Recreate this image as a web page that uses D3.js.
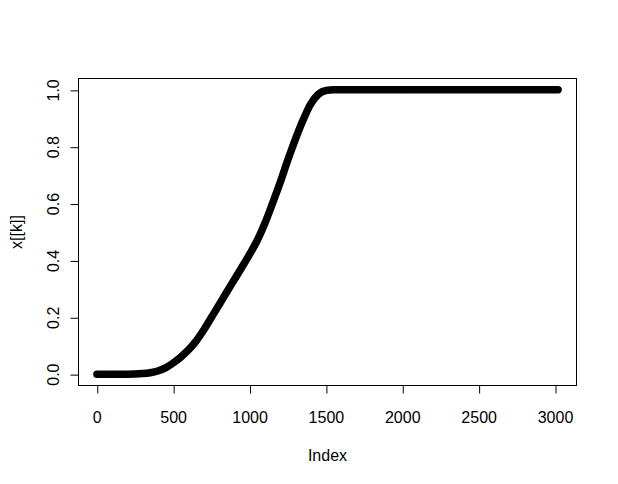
<!DOCTYPE html>
<html>
<head>
<meta charset="utf-8">
<script src="https://cdn.jsdelivr.net/npm/d3@7"></script>
<style>
  body { margin: 0; background: #fff; }
  svg text { font-family: "Liberation Sans", Arial, sans-serif; fill: #000; }
</style>
</head>
<body>
<svg id="chart" width="618" height="484"></svg>
<script>
// values (index -> x[[k]])
const indexVals = [1, 100, 200, 300, 350, 400, 450, 500, 550, 600, 650, 700, 750, 800, 850, 900,
  950, 1000, 1050, 1100, 1150, 1200, 1250, 1300, 1350, 1400, 1450, 1500, 1550, 2000, 2500, 3020];
const seriesVals = [0, 0, 0, 0.002, 0.005, 0.011, 0.022, 0.039, 0.060, 0.085, 0.116, 0.155, 0.199, 0.243, 0.288, 0.332,
  0.376, 0.421, 0.470, 0.530, 0.600, 0.673, 0.752, 0.826, 0.893, 0.950, 0.984, 0.998, 1.0, 1.0, 1.0, 1.0];
const xTicks = [0, 500, 1000, 1500, 2000, 2500, 3000];
const yTicks = [0, 0.2, 0.4, 0.6, 0.8, 1.0];

const svg = d3.select('#chart');

// plot region
const box = {left: 78.5, right: 576.5, top: 78.5, bottom: 385.5};

// R style 4% padding on both axes
const nPts = d3.max(indexVals);
const xPad = (nPts - 1) * 0.04;
const x = d3.scaleLinear()
    .domain([1 - xPad, nPts + xPad])
    .range([box.left, box.right]);

const y = d3.scaleLinear()
    .domain([-0.04, 1.04])
    .range([box.bottom, box.top]);

const data = indexVals.map((d, i) => ({i: d, v: seriesVals[i]}));

// the dense run of points drawn as one thick band
const line = d3.line()
    .x(d => x(d.i))
    .y(d => y(d.v))
    .curve(d3.curveMonotoneX);

svg.append('path')
    .datum(data)
    .attr('d', line)
    .style('fill', 'none')
    .style('stroke', '#000')
    .style('stroke-width', 7.5)
    .style('stroke-linecap', 'round')
    .style('stroke-linejoin', 'round');

svg.selectAll('circle.pt').data(data)
    .enter().append('circle')
    .attr('class', 'pt')
    .attr('cx', d => x(d.i))
    .attr('cy', d => y(d.v))
    .attr('r', 2.6)
    .style('fill', 'none')
    .style('stroke', '#000')
    .style('stroke-width', 1);

// box
svg.append('rect')
    .attr('x', box.left)
    .attr('y', box.top)
    .attr('width', box.right - box.left)
    .attr('height', box.bottom - box.top)
    .style('fill', 'none')
    .style('stroke', '#000')
    .style('stroke-width', 1);

// X axis
const xAxis = svg.append('g')
    .attr('transform', `translate(0,${box.bottom})`)
    .call(d3.axisBottom(x).tickValues(xTicks).tickFormat(d3.format('d')).tickSize(8));
xAxis.select('.domain').remove();
xAxis.selectAll('line').style('stroke', '#000').attr('x1', 0.5).attr('x2', 0.5);
xAxis.selectAll('text')
    .style('font-size', '16px')
    .attr('dy', 0)
    .attr('y', 37.5);

// Y axis
const yAxis = svg.append('g')
    .attr('transform', `translate(${box.left},0)`)
    .call(d3.axisLeft(y).tickValues(yTicks).tickFormat(d3.format('.1f')).tickSize(8));
yAxis.select('.domain').remove();
yAxis.selectAll('line').style('stroke', '#000').attr('y1', 0.5).attr('y2', 0.5);
yAxis.selectAll('text')
    .style('font-size', '16px')
    .attr('text-anchor', 'middle')
    .attr('dy', 0)
    .attr('x', 0)
    .attr('transform', 'translate(-20,0) rotate(-90)');

// axis titles
svg.append('text')
    .attr('x', (box.left + box.right) / 2)
    .attr('y', 461)
    .attr('text-anchor', 'middle')
    .style('font-size', '16px')
    .text('Index');

svg.append('text')
    .attr('transform', `translate(21.5,${(box.top + box.bottom) / 2}) rotate(-90)`)
    .attr('text-anchor', 'middle')
    .style('font-size', '16px')
    .text('x[[k]]');
</script>
</body>
</html>
